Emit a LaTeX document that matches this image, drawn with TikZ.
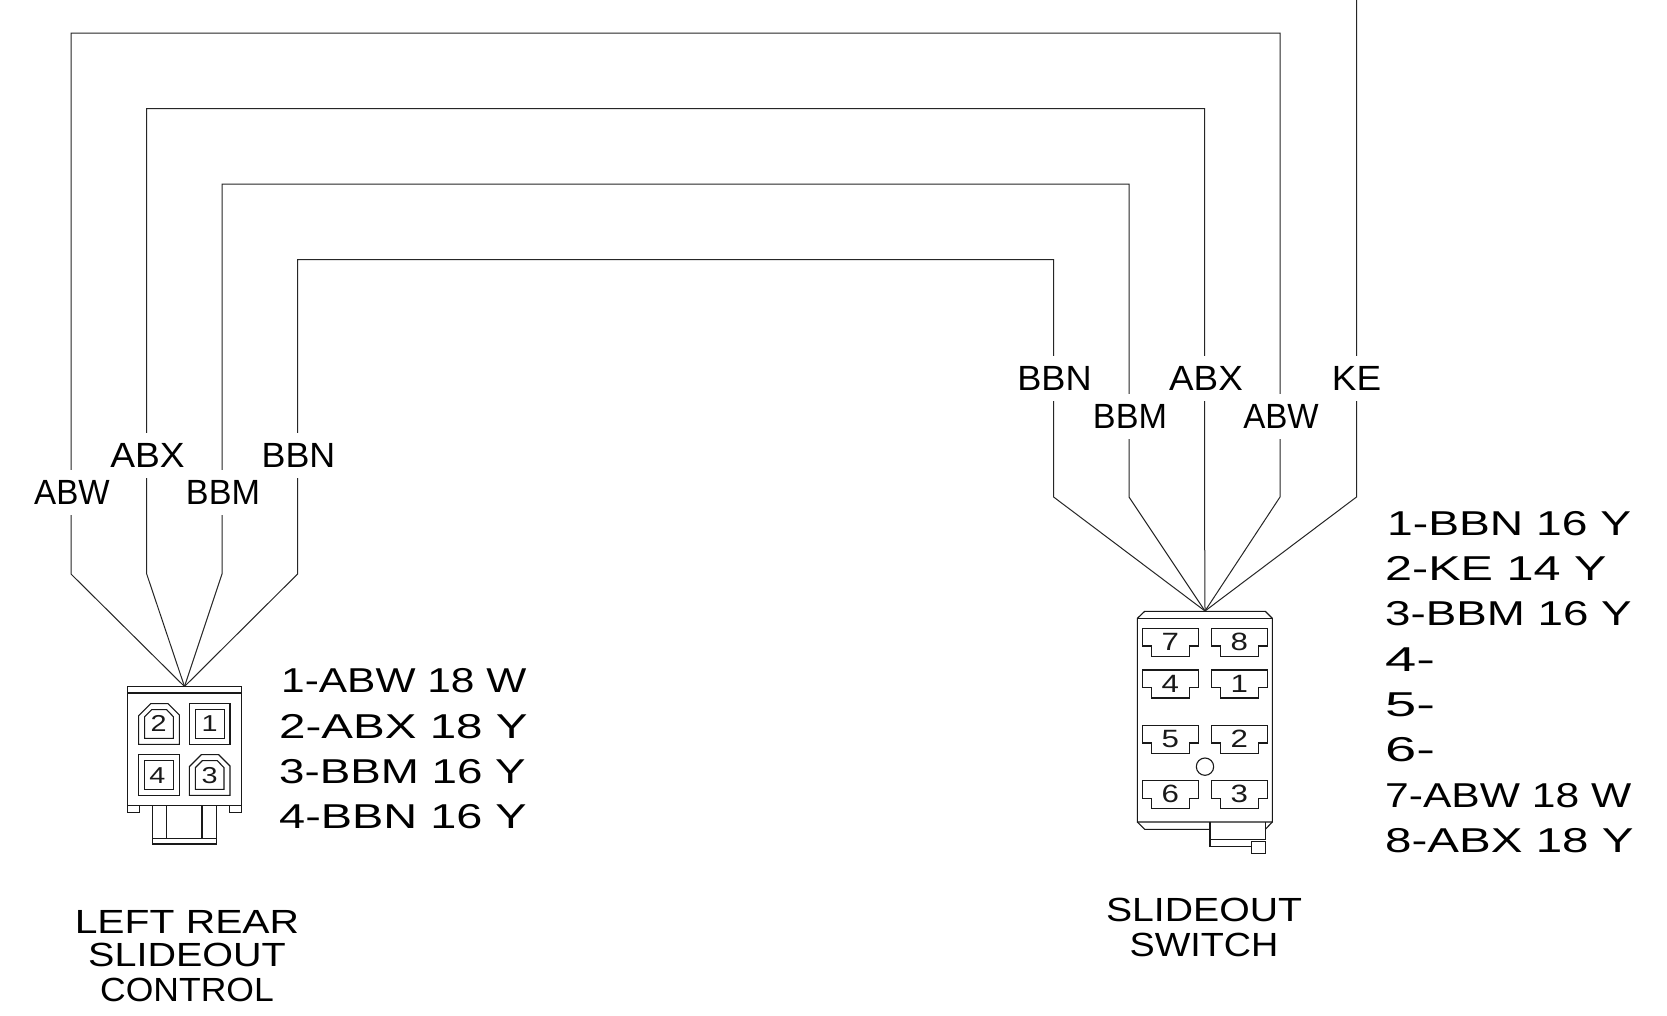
\documentclass[tikz,border=0pt]{standalone}
\usepackage{fontspec}
\setmainfont{Liberation Sans}
\newcommand{\wlabel}[2]{\fontsize{35}{36}\selectfont\scalebox{#1}[1]{\scalebox{0.957}[1]{#2}}}
\newcommand{\pinline}[2]{\fontsize{34.5}{36}\selectfont\scalebox{#1}[1]{\scalebox{0.957}[1]{#2}}}
\newcommand{\capline}[2]{\fontsize{33.5}{36}\selectfont\scalebox{#1}[1]{\scalebox{0.955}[1]{#2}}}
\newcommand{\numsm}[1]{\fontsize{23}{24}\selectfont\scalebox{1.25}[1]{#1}}
\newcommand{\numlg}[1]{\fontsize{25}{26}\selectfont\scalebox{1.25}[1]{#1}}
\tikzset{
  wire/.style={line width=1pt,color=black!85},
  part/.style={line width=1.1pt,color=black!90},
  wirelabel/.style={fill=white,inner xsep=0pt,inner ysep=0pt,minimum height=45pt,anchor=center},
  pinlabel/.style={inner sep=0pt,anchor=base west},
  caption/.style={inner sep=0pt,anchor=base},
  cavnum/.style={inner sep=0pt,anchor=center},
}
\begin{document}
\begin{tikzpicture}[x=1pt,y=-1pt]
\path[fill=white,use as bounding box] (0,0) rectangle (1667,1015);
% coordinates
\coordinate (lapex) at (184.5,686.5);
\coordinate (rapex) at (1205,611);
\foreach \n/\x/\yt in {a/71/33,b/146.7/108.5,c/222/184,d/297.6/259.5}{
  \coordinate (lb\n) at (\x,574);
  \coordinate (lt\n) at (\x,\yt);
}
\foreach \n/\x/\yt in {a/1280/33,b/1204.5/108.5,c/1129/184,d/1053.6/259.5}{
  \coordinate (rb\n) at (\x,497);
  \coordinate (rt\n) at (\x,\yt);
}
\coordinate (rbe) at (1356.5,497);
\coordinate (rte) at (1356.5,0);
% wires
\foreach \n in {a,b,c,d}{
  \draw[wire] (lapex) -- (lb\n) -- (lt\n) -- (rt\n) -- (rb\n) -- (rapex);
}
\draw[wire] (rapex) -- (rbe) -- (rte);
% wire labels
\node[wirelabel] (l1) at (72,492) {\wlabel{0.99}{ABW}};
\node[wirelabel] (l2) at (147.5,455) {\wlabel{1.11}{ABX}};
\node[wirelabel] (l3) at (223,492) {\wlabel{1.02}{BBM}};
\node[wirelabel] (l4) at (298.5,455) {\wlabel{1.07}{BBN}};
\node[wirelabel] (r1) at (1054.5,378) {\wlabel{1.08}{BBN}};
\node[wirelabel] (r2) at (1130,416) {\wlabel{1.02}{BBM}};
\node[wirelabel] (r3) at (1206,378) {\wlabel{1.10}{ABX}};
\node[wirelabel] (r4) at (1281,416) {\wlabel{0.99}{ABW}};
\node[wirelabel] (r5) at (1356.5,378) {\wlabel{1.10}{KE}};
% left connector
\begin{scope}[shift={(100,660)},x=0.3333pt,y=-0.3333pt,part]
  \draw[fill=white] (82,80) rectangle (425,437);
  \draw[line width=1.8pt] (82,98) -- (425,98);
  \draw (82,437) rectangle (118,457);
  \draw (388,437) rectangle (425,457);
  \draw (157,437) -- (157,552) -- (350,552) -- (350,437);
  \draw (157,535) -- (350,535);
  \draw (200,437) -- (200,535);
  \draw (306,437) -- (306,535);
  \foreach \dx/\dy in {0/0,152/153}{
    \draw[shift={(\dx,\dy)}] (116,253) -- (116,167) -- (152,131) -- (204,131) -- (238,165) -- (238,253) -- cycle;
    \draw[shift={(\dx,\dy)}] (134,235) -- (134,170) -- (155,149) -- (200,149) -- (220,170) -- (220,235) -- cycle;
  }
  \foreach \dx/\dy in {152/0,0/153}{
    \draw[shift={(\dx,\dy)}] (116,131) rectangle (238,253);
    \draw[shift={(\dx,\dy)}] (134,149) rectangle (221,235);
  }
  \node[cavnum] (lp2) at (176,191) {\numsm{2}};
  \node[cavnum] (lp1) at (329,191) {\numsm{1}};
  \node[cavnum] (lp4) at (172,346) {\numsm{4}};
  \node[cavnum] (lp3) at (329,346) {\numsm{3}};
\end{scope}
% right connector
\begin{scope}[shift={(1110,590)},x=0.3333pt,y=-0.3333pt,part]
  \draw[fill=white] (82,85) -- (104,64) -- (466,64) -- (487,85) -- (487,696) -- (82,696) -- cycle;
  \draw (82,85) -- (487,85);
  \draw (82,696) -- (104,718) -- (300,718);
  \draw (300,696) -- (300,769) -- (424,769);
  \draw (466,696) -- (466,748) -- (300,748);
  \draw (466,718) -- (487,696);
  \draw (424,754) rectangle (466,790);
  \foreach \n/\col/\row in {7/0/115,8/207/115,4/0/240,1/207/240,5/0/406,2/207/406,6/0/572,3/207/572}{
    \draw[shift={(\col,\row)}] (97,0) -- (265,0) -- (265,53) -- (239,53) -- (239,84) -- (124,84) -- (124,53) -- (97,53) -- cycle;
    \node[cavnum] (rp\n) at ({181+\col},{\row+41}) {\numlg{\n}};
  }
  \draw (285,530) circle (26);
\end{scope}
% pin lists left
\node[pinlabel] (pl1) at (281,692) {\pinline{1.285}{1-ABW 18 W}};
\node[pinlabel] (pl2) at (279,738) {\pinline{1.44}{2-ABX 18 Y}};
\node[pinlabel] (pl3) at (279,783) {\pinline{1.385}{3-BBM 16 Y}};
\node[pinlabel] (pl4) at (279,828) {\pinline{1.42}{4-BBN 16 Y}};
% pin lists right
\node[pinlabel] (pr1) at (1387,535) {\pinline{1.40}{1-BBN 16 Y}};
\node[pinlabel] (pr2) at (1385,580) {\pinline{1.47}{2-KE 14 Y}};
\node[pinlabel] (pr3) at (1385,625) {\pinline{1.385}{3-BBM 16 Y}};
\node[pinlabel] (pr4) at (1385,671) {\pinline{1.7}{4-}};
\node[pinlabel] (pr5) at (1385,716) {\pinline{1.7}{5-}};
\node[pinlabel] (pr6) at (1385,761) {\pinline{1.7}{6-}};
\node[pinlabel] (pr7) at (1385,807) {\pinline{1.29}{7-ABW 18 W}};
\node[pinlabel] (pr8) at (1385,852) {\pinline{1.44}{8-ABX 18 Y}};
% captions
\node[caption] (c1) at (187,933) {\capline{1.275}{LEFT REAR}};
\node[caption] (c2) at (187,966) {\capline{1.235}{SLIDEOUT}};
\node[caption] (c3) at (187,1001) {\capline{1.11}{CONTROL}};
\node[caption] (c4) at (1204,921) {\capline{1.225}{SLIDEOUT}};
\node[caption] (c5) at (1204,956) {\capline{1.18}{SWITCH}};
\end{tikzpicture}
\end{document}
